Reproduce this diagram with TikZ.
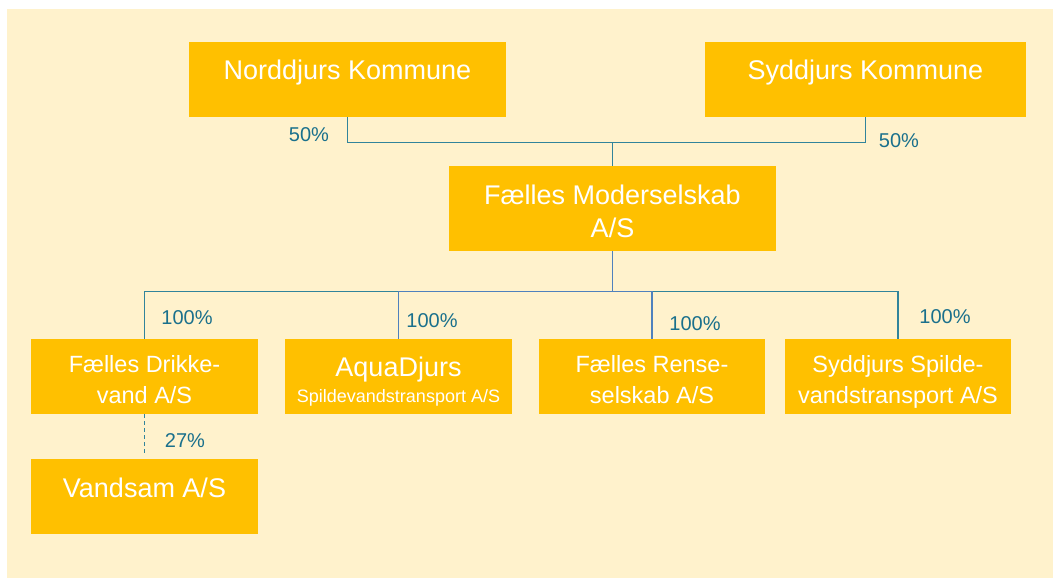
\documentclass[tikz,border=0pt]{standalone}
\usepackage{fontspec}
\setmainfont{Liberation Sans}
\definecolor{bgc}{HTML}{FFF2CC}
\definecolor{boxc}{HTML}{FFC000}
\definecolor{tealc}{HTML}{31849B}
\definecolor{bluec}{HTML}{4F81BD}
\definecolor{labc}{RGB}{26,112,140}
\tikzset{
  box/.style={rectangle, fill=boxc, inner sep=0pt, anchor=north west},
  txt/.style={text=white, anchor=base, inner sep=0pt, align=center},
  big/.style={font=\fontsize{27}{33}\selectfont},
  mid/.style={font=\fontsize{23.5}{31}\selectfont},
  sml/.style={font=\fontsize{18}{22}\selectfont},
  pct/.style={text=labc, anchor=base, inner sep=0pt, font=\fontsize{20}{24}\selectfont},
  conn/.style={draw=tealc, line width=1.5pt},
  connb/.style={draw=bluec, line width=1.5pt},
}
\begin{document}
\begin{tikzpicture}[x=1pt,y=-1pt]
\useasboundingbox (0,0) rectangle (1053,578);
\fill[bgc] (7,9) rectangle (1053,578);
% boxes
\node[box, minimum width=317pt, minimum height=75pt] (nk) at (189,42) {};
\node[box, minimum width=321pt, minimum height=75pt] (sk) at (705,42) {};
\node[box, minimum width=327pt, minimum height=85pt] (fm) at (449,166) {};
\node[box, minimum width=227pt, minimum height=75pt] (fd) at (31,339) {};
\node[box, minimum width=227pt, minimum height=75pt] (aq) at (285,339) {};
\node[box, minimum width=226pt, minimum height=75pt] (fr) at (539,339) {};
\node[box, minimum width=226pt, minimum height=75pt] (ss) at (785,339) {};
\node[box, minimum width=227pt, minimum height=75pt] (vs) at (31,459) {};
% texts (base anchor = baseline of the last line)
\node[txt, big] (tnk) at (347.5,80) {Norddjurs Kommune};
\node[txt, big] (tsk) at (865.5,80) {Syddjurs Kommune};
\node[txt, big] (tfm) at (612.5,237) {Fælles Moderselskab\\A/S};
\node[txt, mid] (tfd) at (144.5,403) {Fælles Drikke-\\vand A/S};
\node[txt, big] (taq) at (398.5,376) {AquaDjurs};
\node[txt, sml] (taq2) at (398.5,402) {Spildevandstransport A/S};
\node[txt, mid] (tfr) at (652,403) {Fælles Rense-\\selskab A/S};
\node[txt, mid] (tss) at (898,403) {Syddjurs Spilde-\\vandstransport A/S};
\node[txt, big] (tvs) at (144.5,497) {Vandsam A/S};
% connectors
\draw[conn] (nk.south) -- ++(0,25) -| (fm.north);
\draw[conn] (sk.south) -- ++(0,25) -| (fm.north);
\draw[conn] (fm.south) -- ++(0,40) -| (fd.north);
\draw[conn] (fm.south) -- ++(0,40) -| (ss.north);
\draw[connb] (fm.south) -- ++(0,40) -| (aq.north);
\draw[connb] (fm.south) -- ++(0,40) -| (fr.north);
\draw[conn, dash pattern=on 4pt off 3pt, shorten >=6pt] (fd.south) -- (vs.north);
% percentages
\node[pct] (p1) at (309,141) {50\%};
\node[pct] (p2) at (899,147) {50\%};
\node[pct] (p3) at (187,324) {100\%};
\node[pct] (p4) at (432,327) {100\%};
\node[pct] (p5) at (695,330) {100\%};
\node[pct] (p6) at (945,323) {100\%};
\node[pct] (p7) at (185,447) {27\%};
\end{tikzpicture}
\end{document}
